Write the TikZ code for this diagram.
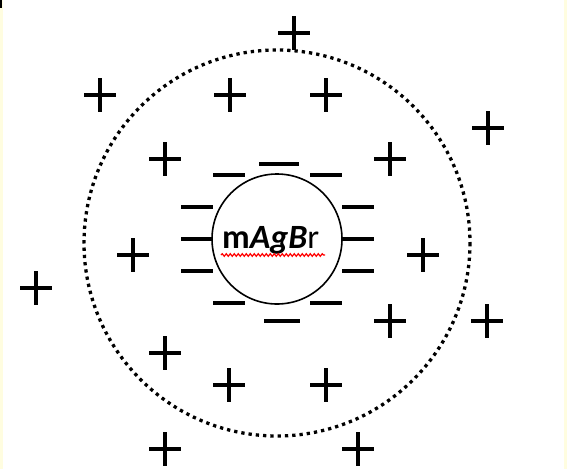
\documentclass[tikz,border=0pt]{standalone}
\usepackage{fontspec}
\setmainfont{Carlito}
\usetikzlibrary{decorations.pathmorphing}
\begin{document}
\begin{tikzpicture}[x=1pt,y=-1pt,
  pluslw/.style={line width=3.3pt},
  minuslw/.style={line width=3.5pt},
  dotring/.style={line width=3.3pt,dash pattern=on 3.3pt off 4pt},
  grain/.style={circle,draw,line width=1.6pt,minimum size=130pt,inner sep=0pt}]
\useasboundingbox (0,0) rectangle (567,469);
\fill[white] (0,0) rectangle (567,469);
\fill[yellow!12] (0,0) rectangle (3,469);
\fill[yellow!12] (564,0) rectangle (567,469);
\fill[black] (0,0) rectangle (2,8);
% dotted ring
\draw[dotring] (277,243) circle[radius=193];
% grain
\node[grain] (g) at (277,239) {};
\node[font=\fontsize{34}{34}\selectfont,inner sep=0pt,anchor=base west] (t) at (222,248)
  {\textbf{m}\textbf{\textit{AgB}}\mdseries r};
\draw[red,line width=1.2pt,decorate,decoration={snake,amplitude=1.3pt,segment length=4pt}]
  (221,255) -- (325,255);
% minus signs
\foreach \x/\y/\l in {279/164/40,229/175/32,326/175/32,197/207/32,358/207/32,
  197/239/32,358/239/32,197/271/32,358/271/32,229/303/32,326/303/32,282/321/36}
  \draw[minuslw] (\x-\l/2,\y) -- (\x+\l/2,\y);
% plus signs
\foreach \x/\y in {294/33,100/95,230/95,326/95,488/128,165/159,390/159,
  133/255,423/255,36/288,390/321,487/321,165/353,229/385,326/385,165/449,358/449}
  {\draw[pluslw] (\x-16,\y) -- (\x+16,\y);
   \draw[pluslw] (\x,\y-17) -- (\x,\y+17);}
\end{tikzpicture}
\end{document}
